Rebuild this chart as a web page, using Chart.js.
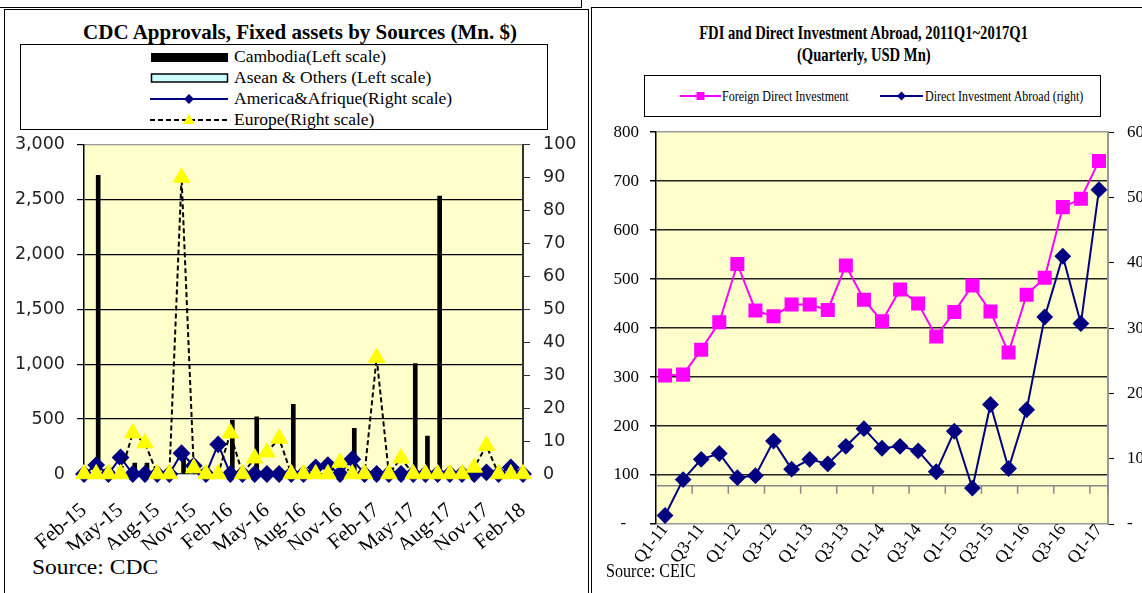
<!DOCTYPE html>
<html><head><meta charset="utf-8">
<script src="https://cdn.jsdelivr.net/npm/chart.js@4.4.1/dist/chart.umd.min.js"></script>
<style>
html,body{margin:0;padding:0;width:1142px;height:593px;overflow:hidden;background:#fff;position:relative;}
.abs{position:absolute;}
.serif{font-family:"Liberation Serif","Times New Roman",serif;color:#000;white-space:nowrap;}
.sx{display:inline-block;}
</style></head><body>

<script>
// ---------------- DATA ----------------
const cdcMonths = ['Feb-15','Mar-15','Apr-15','May-15','Jun-15','Jul-15','Aug-15','Sep-15','Oct-15','Nov-15','Dec-15',
  'Jan-16','Feb-16','Mar-16','Apr-16','May-16','Jun-16','Jul-16','Aug-16','Sep-16','Oct-16','Nov-16','Dec-16',
  'Jan-17','Feb-17','Mar-17','Apr-17','May-17','Jun-17','Jul-17','Aug-17','Sep-17','Oct-17','Nov-17','Dec-17',
  'Jan-18','Feb-18'];
const cambodia = [0,2720,0,0,100,100,0,0,150,0,0,0,490,0,520,0,0,635,0,0,0,0,415,0,0,0,0,1005,345,2530,0,0,0,0,0,0,0];
const asean    = [0,0,0,0,0,0,0,0,0,0,0,0,0,0,0,0,0,0,0,0,0,0,0,0,0,0,0,0,0,0,0,0,0,0,0,0,0];
const america  = [0,2.7,0,5,0,0,0,0,6.3,2.5,0,9,0,0,0,0,0,0,0,2,2.7,0,4.5,0,0,0,0,0,0,0,0,0,0,0.5,0,2,0];
const europe   = [0,0,0,0,12.4,9.4,0,0,90,1.8,0,0,12.4,0,4.8,6.6,10.8,0,0,0,0,3.5,0,0,35.3,0,4.8,0,0,0,0,0,2,8.6,0,0,0];
const cdcLeftRange = [0,3000];
const cdcRightRange = [0,100];

const quarters = ['Q1-11','Q2-11','Q3-11','Q4-11','Q1-12','Q2-12','Q3-12','Q4-12','Q1-13','Q2-13','Q3-13','Q4-13',
  'Q1-14','Q2-14','Q3-14','Q4-14','Q1-15','Q2-15','Q3-15','Q4-15','Q1-16','Q2-16','Q3-16','Q4-16','Q1-17'];
const fdi = [303,305,356,412,531,436,424,448,448,437,528,458,414,479,450,383,433,487,434,350,468,503,647,664,741];
const dia = [13,68,99,108,71,74,127,84,99,92,119,146,116,119,112,80,142,55,183,85,175,317,410,307,512];
const fdiRange = [0,800];
const diaRange = [0,600];
</script>

<!-- frames -->
<div class="abs" style="left:-2px;top:-2px;width:582px;height:8px;border:1.5px solid #000;"></div>
<div class="abs" style="left:4px;top:9px;width:585px;height:640px;border:1.5px solid #000;box-sizing:border-box;"></div>
<div class="abs" style="left:591px;top:7px;width:620px;height:640px;border:1.5px solid #000;box-sizing:border-box;"></div>

<!-- left title -->
<div class="abs serif" style="left:0;top:22px;width:600px;text-align:center;font-weight:bold;font-size:21px;line-height:21px;">CDC Approvals, Fixed assets by Sources (Mn. $)</div>

<!-- left legend -->
<div class="abs" style="left:20px;top:44px;width:528px;height:86px;border:1px solid #000;box-sizing:border-box;"></div>
<svg class="abs" style="left:150px;top:49px" width="80" height="16"><rect x="1" y="4" width="77" height="9" fill="#000"/></svg>
<div class="abs serif" style="left:234px;top:47px;font-size:17.5px;line-height:19px;">Cambodia(Left scale)</div>
<svg class="abs" style="left:150px;top:70px" width="80" height="16"><rect x="1.5" y="4" width="76" height="8" fill="#CCFFFF" stroke="#000" stroke-width="1.5"/></svg>
<div class="abs serif" style="left:234px;top:68px;font-size:17.5px;line-height:19px;">Asean &amp; Others (Left scale)</div>
<svg class="abs" style="left:150px;top:91px" width="80" height="16"><line x1="0" y1="8" x2="78" y2="8" stroke="#000080" stroke-width="2"/><path d="M39 3 L44 8 L39 13 L34 8 Z" fill="#000080"/></svg>
<div class="abs serif" style="left:234px;top:89px;font-size:17.5px;line-height:19px;">America&amp;Afrique(Right scale)</div>
<svg class="abs" style="left:150px;top:112px" width="80" height="16"><line x1="0" y1="8" x2="78" y2="8" stroke="#000" stroke-width="2" stroke-dasharray="5,3"/><path d="M39 2 L45 12 L33 12 Z" fill="#FFFF00"/></svg>
<div class="abs serif" style="left:234px;top:110px;font-size:17.5px;line-height:19px;">Europe(Right scale)</div>

<canvas id="c1" width="578" height="429" style="position:absolute;left:6px;top:121px;"></canvas>

<div class="abs serif" style="left:32px;top:557px;font-size:21px;line-height:21px;"><span class="sx" style="transform:scaleX(1.12);transform-origin:left center;">Source: CDC</span></div>

<!-- right title -->
<div class="abs serif" style="left:591px;top:22px;width:545px;text-align:center;font-weight:bold;font-size:19px;line-height:22px;"><span class="sx" style="transform:scaleX(0.77);transform-origin:center center;">FDI and Direct Investment Abroad, 2011Q1~2017Q1</span><br><span class="sx" style="transform:scaleX(0.77);transform-origin:center center;">(Quarterly, USD Mn)</span></div>

<!-- right legend -->
<div class="abs" style="left:644px;top:75px;width:457px;height:42px;border:1px solid #000;box-sizing:border-box;"></div>
<svg class="abs" style="left:680px;top:88px" width="42" height="16"><line x1="0" y1="8" x2="41" y2="8" stroke="#FF00FF" stroke-width="2"/><rect x="16.5" y="4" width="8" height="8" fill="#FF00FF"/></svg>
<div class="abs serif" style="left:722px;top:87px;font-size:15px;line-height:18px;"><span class="sx" style="transform:scaleX(0.8);transform-origin:left center;">Foreign Direct Investment</span></div>
<svg class="abs" style="left:880px;top:88px" width="44" height="16"><line x1="0" y1="8" x2="43" y2="8" stroke="#000080" stroke-width="2"/><path d="M21.5 3.5 L26 8 L21.5 12.5 L17 8 Z" fill="#000080"/></svg>
<div class="abs serif" style="left:925px;top:87px;font-size:15px;line-height:18px;"><span class="sx" style="transform:scaleX(0.8);transform-origin:left center;">Direct Investment Abroad (right)</span></div>

<canvas id="c2" width="570" height="471" style="position:absolute;left:592px;top:109px;"></canvas>

<div class="abs serif" style="left:606px;top:561px;font-size:18.5px;line-height:20px;"><span class="sx" style="transform:scaleX(0.87);transform-origin:left center;">Source: CEIC</span></div>

<script>
Chart.defaults.color = '#000';
Chart.defaults.font.family = '"Liberation Serif", serif';

const bgPlugin = {
  id: 'bg',
  beforeDraw(chart) {
    const {ctx, chartArea: a} = chart;
    ctx.save();
    ctx.fillStyle = '#FFFFCC';
    ctx.fillRect(a.left, a.top, a.right - a.left, a.bottom - a.top);
    ctx.restore();
  }
};

// ---------- Left chart ----------
new Chart(document.getElementById('c1'), {
  data: {
    labels: cdcMonths,
    datasets: [
      {type: 'line', label: 'Europe(Right scale)', data: europe, yAxisID: 'yR', borderColor: '#000', borderWidth: 2,
        borderDash: [5, 3], pointStyle: 'triangle', pointRadius: 9.5, pointBackgroundColor: '#FFFF00',
        pointBorderColor: '#FFFF00', pointBorderWidth: 1, tension: 0, order: 0, clip: false},
      {type: 'line', label: 'America&Afrique(Right scale)', data: america, yAxisID: 'yR', borderColor: '#000080',
        borderWidth: 2, pointStyle: 'rectRot', pointRadius: 7.5, pointBackgroundColor: '#000080',
        pointBorderColor: '#000080', tension: 0, order: 1, clip: false},
      {type: 'bar', label: 'Asean & Others (Left scale)', data: asean, yAxisID: 'yL', backgroundColor: '#CCFFFF',
        borderColor: '#000', borderWidth: 0, barThickness: 4, order: 2},
      {type: 'bar', label: 'Cambodia(Left scale)', data: cambodia, yAxisID: 'yL', backgroundColor: '#000',
        barThickness: 4, order: 3}
    ]
  },
  options: {
    responsive: false, animation: false, events: [],
    layout: {padding: {top: 0, left: 0, right: 0, bottom: 0}},
    plugins: {legend: {display: false}, tooltip: {enabled: false}},
    scales: {
      x: {
        offset: false,
        grid: {display: false, drawTicks: false},
        border: {display: false},
        ticks: {autoSkip: false, minRotation: 40, maxRotation: 40, padding: 24,
          font: {family: '"Liberation Serif", serif', size: 21},
          callback: (v, i) => (i % 3 === 0 ? cdcMonths[i] : '')},
        afterFit: s => { s.height = 76; }
      },
      yL: {
        position: 'left', min: cdcLeftRange[0], max: cdcLeftRange[1],
        ticks: {stepSize: 500, padding: 12, font: {family: '"DejaVu Sans", sans-serif', size: 17.5}, color: '#222'},
        grid: {color: c => (c.tick && c.tick.value === 3000 ? '#999' : '#000'), lineWidth: 1.2, tickLength: 7, tickColor: '#000'},
        border: {display: true, color: '#000', width: 1.5},
        afterFit: s => { s.width = 78; }
      },
      yR: {
        position: 'right', min: cdcRightRange[0], max: cdcRightRange[1],
        ticks: {stepSize: 10, padding: 13, font: {family: '"DejaVu Sans", sans-serif', size: 17.5}, color: '#222'},
        grid: {drawOnChartArea: false, drawTicks: true, tickLength: 7, tickColor: '#333', color: '#333'},
        border: {display: true, color: '#333', width: 2},
        afterFit: s => { s.width = 61; }
      }
    }
  },
  plugins: [bgPlugin]
});

// ---------- Right chart ----------
const catAxisPlugin = {
  id: 'catAxis',
  beforeDatasetsDraw(chart) {
    const {ctx, chartArea: a, scales} = chart;
    const y = scales.y.getPixelForValue(78);
    const x = scales.x;
    ctx.save();
    ctx.strokeStyle = '#888';
    ctx.lineWidth = 1.5;
    ctx.beginPath();
    ctx.moveTo(a.left, y); ctx.lineTo(a.right, y);
    for (let i = 2; i <= quarters.length - 1; i += 2) {
      const px = (x.getPixelForValue(i - 1) + x.getPixelForValue(i)) / 2;
      ctx.moveTo(px, y); ctx.lineTo(px, y + 8);
    }
    const last = x.getPixelForValue(quarters.length - 1) + (x.getPixelForValue(1) - x.getPixelForValue(0)) / 2;
    ctx.moveTo(last, y); ctx.lineTo(last, y + 8);
    ctx.stroke();
    ctx.restore();
  }
};

new Chart(document.getElementById('c2'), {
  type: 'line',
  data: {
    labels: quarters,
    datasets: [
      {label: 'Foreign Direct Investment', data: fdi, yAxisID: 'y', borderColor: '#FF00FF', borderWidth: 2,
        pointStyle: 'rect', pointRadius: 8.5, pointBackgroundColor: '#FF00FF', pointBorderColor: '#FF00FF',
        tension: 0, clip: false},
      {label: 'Direct Investment Abroad (right)', data: dia, yAxisID: 'y2', borderColor: '#000080', borderWidth: 2,
        pointStyle: 'rectRot', pointRadius: 7, pointBackgroundColor: '#000080', pointBorderColor: '#000080',
        tension: 0, clip: false}
    ]
  },
  options: {
    responsive: false, animation: false, events: [],
    layout: {padding: {top: 0, left: 0, right: 0, bottom: 0}},
    plugins: {legend: {display: false}, tooltip: {enabled: false}},
    scales: {
      x: {
        offset: true,
        grid: {display: false, drawTicks: false},
        border: {display: false},
        ticks: {autoSkip: false, minRotation: 52, maxRotation: 52, padding: -4,
          font: {family: '"Liberation Serif", serif', size: 17.5},
          callback: (v, i) => (i % 2 === 0 ? quarters[i] : '')},
        afterFit: s => { s.height = 56; }
      },
      y: {
        position: 'left', min: fdiRange[0], max: fdiRange[1],
        ticks: {stepSize: 100, padding: 11, font: {family: '"Liberation Serif", serif', size: 17},
          callback: v => (v === 0 ? '-   ' : String(v))},
        grid: {color: c => (c.tick && (c.tick.value === 800 || c.tick.value === 0) ? '#999' : '#222'),
          lineWidth: 1.5, tickLength: 6, tickColor: '#000'},
        border: {display: true, color: '#000', width: 1.5},
        afterFit: s => { s.width = 64; }
      },
      y2: {
        position: 'right', min: diaRange[0], max: diaRange[1],
        ticks: {stepSize: 100, padding: 13, font: {family: '"Liberation Serif", serif', size: 17},
          callback: v => (v === 0 ? '-' : String(v))},
        grid: {drawOnChartArea: false, drawTicks: true, tickLength: 6, tickColor: '#000', color: '#000'},
        border: {display: true, color: '#999', width: 2},
        afterFit: s => { s.width = 54; }
      }
    }
  },
  plugins: [bgPlugin, catAxisPlugin]
});
</script>
</body></html>
